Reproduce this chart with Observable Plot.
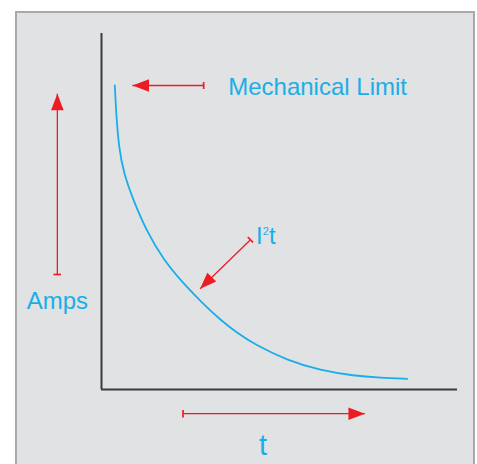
<!DOCTYPE html>
<html>
<head>
<meta charset="utf-8">
<script src="https://cdn.jsdelivr.net/npm/d3@7"></script>
<script src="https://cdn.jsdelivr.net/npm/@observablehq/plot@0.6"></script>
<style>
  html, body { margin: 0; padding: 0; background: #ffffff; }
  #wrap { position: relative; width: 477px; height: 464px; overflow: hidden; }
  #panel { position: absolute; left: 15px; top: 11px; width: 460px; height: 470px;
           background: #e1e2e4; border: 2px solid #a9a9a9; box-sizing: border-box; }
  #chart { position: absolute; left: 0; top: 0; }
  #chart svg { background: transparent !important; }
</style>
</head>
<body>
<div id="wrap"><div id="panel"></div><div id="chart"></div></div>
<script>
// Decay curve (time vs. current) (axes 0..100)
const curveT    = [3.74, 4.13, 4.86, 6.26, 8.99, 12.44, 17.5, 23.12, 28.29, 33.43, 37.92, 42.78, 52.16, 61.52, 70.87, 78.37, 85.87];
const curveAmps = [85.39, 77.44, 68.06, 60.59, 53.09, 44.94, 36.24, 29.69, 24.30, 19.52, 16.01, 12.78, 8.15, 5.34, 3.85, 3.29, 3.01];

// Annotation arrows: tail -> tip, with head direction (degrees clockwise from up)
const arrowName  = ["mechanical", "amps", "i2t", "time"];
const arrowTailX = [28.7, -12.4, 41.85, 22.9];
const arrowTailY = [85.4, 32.3, 42.05, -6.8];
const arrowTipX  = [8.7, -12.4, 27.7, 74.0];
const arrowTipY  = [85.4, 83.1, 28.3, -6.8];
const arrowAngle = [270, 0, 225, 90];

// Labels ("I²t" is set as I + superscript 2 + t)
const labelText   = ["Mechanical Limit", "Amps", "I", "2", "t", "t"];
const labelX      = [35.6, -12.4, 43.4, 45.31, 47.05, 45.4];
const labelY      = [82.6, 22.7, 40.9, 43.4, 40.9, -18.3];
const labelAnchor = ["start", "middle", "start", "start", "start", "middle"];
const labelSize   = [24, 24, 24, 11, 24, 29];

const curve = curveT.map((t, i) => ({t, a: curveAmps[i]}));
const arrows = arrowName.map((n, i) => ({
  n, x1: arrowTailX[i], y1: arrowTailY[i], x2: arrowTipX[i], y2: arrowTipY[i], rot: arrowAngle[i]
}));
const labels = labelText.map((s, i) => ({s, x: labelX[i], y: labelY[i], anchor: labelAnchor[i], size: labelSize[i]}));

const headSymbol = {
  draw(ctx) {
    // tip at origin, pointing up
    ctx.moveTo(0, 0);
    ctx.lineTo(-6.3, 16.5);
    ctx.lineTo(6.3, 16.5);
    ctx.closePath();
  }
};

const RED = "#ed1c24";
const BLUE = "#1aaee8";

const chart = Plot.plot({
  width: 477,
  height: 464,
  marginLeft: 101,
  marginRight: 20,
  marginTop: 33,
  marginBottom: 75,
  x: {domain: [0, 100], axis: null},
  y: {domain: [0, 100], axis: null},
  style: {background: "transparent", fontFamily: "'Liberation Sans', Arial, sans-serif"},
  marks: [
    Plot.ruleX([0], {stroke: "#3b3b3d", strokeWidth: 2}),
    Plot.ruleY([0], {stroke: "#3b3b3d", strokeWidth: 2}),
    Plot.line(curve, {x: "t", y: "a", curve: "basis", stroke: BLUE, strokeWidth: 1.8}),
    Plot.link(arrows, {x1: "x1", y1: "y1", x2: "x2", y2: "y2", stroke: RED, strokeWidth: 1.3, markerStart: "tick"}),
    Plot.dot(arrows, {x: "x2", y: "y2", rotate: "rot", symbol: headSymbol, r: 5, fill: RED, stroke: "none"}),
    ...labels.map(d => Plot.text([d], {
      x: "x", y: "y", text: "s", textAnchor: d.anchor, lineAnchor: "bottom",
      fontSize: d.size, fill: BLUE
    }))
  ]
});
document.getElementById("chart").appendChild(chart);
</script>
</body>
</html>
